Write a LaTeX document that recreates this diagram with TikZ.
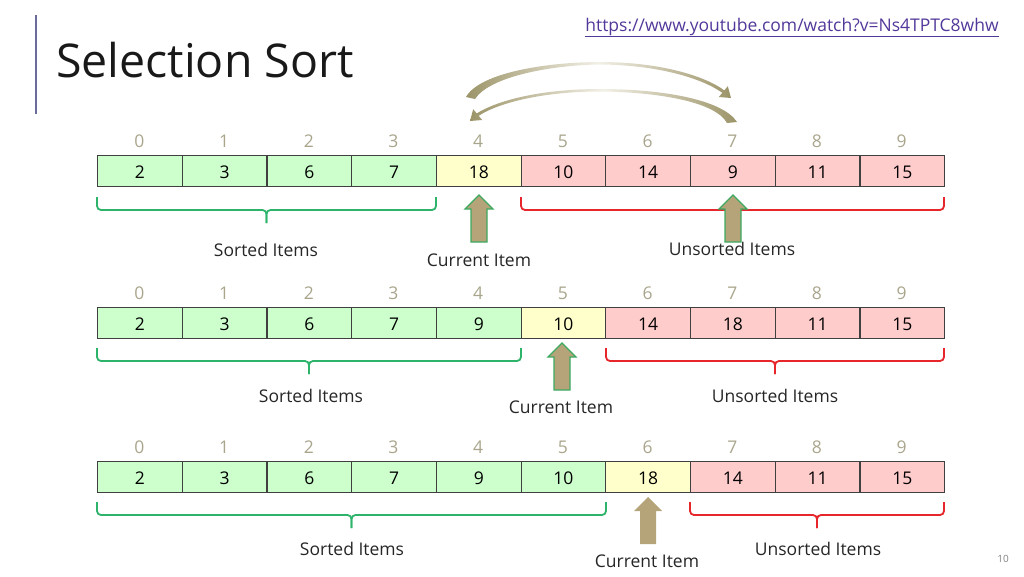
\documentclass[tikz,border=0pt]{standalone}
\usepackage{fontspec}
\setmainfont{Open Sans}
\definecolor{cg}{HTML}{CCFFCC}
\definecolor{cy}{HTML}{FFFFCC}
\definecolor{cp}{HTML}{FFCCCC}
\definecolor{cellborder}{HTML}{404040}
\definecolor{bgreen}{HTML}{2EB36B}
\definecolor{bred}{HTML}{E6262B}
\definecolor{arrowfill}{HTML}{B5A47A}
\definecolor{arrowline}{HTML}{3DAA60}
\definecolor{idxcol}{HTML}{A9A58C}
\definecolor{titleline}{HTML}{6C6C9C}
\definecolor{urlcol}{HTML}{52389A}
\definecolor{swapdark}{HTML}{9C9468}
\definecolor{swaplight}{HTML}{F2F0E6}
\pgfdeclarehorizontalshading{swapshade}{100bp}{color(0bp)=(swapdark); color(25bp)=(swapdark); color(50bp)=(swaplight); color(75bp)=(swapdark); color(100bp)=(swapdark)}
\newcommand\lblfont{\fontsize{17.5}{20}\selectfont}
\begin{document}
\begin{tikzpicture}[x=1pt,y=-1pt,
  cell/.style={draw=cellborder, line width=1.2pt, minimum width=84.7pt, minimum height=31pt,
    inner sep=0pt, text height=15pt, text depth=0pt, font=\lblfont, anchor=north west},
  idx/.style={font=\lblfont, text=idxcol, anchor=base, inner sep=0pt},
  lbl/.style={font=\lblfont, text=black!85, anchor=base, inner sep=0pt},
  bracestyle/.style={line width=1.8pt, rounded corners=4pt},
  curarrow/.pic={\path[pic actions] (0,0) -- (14,14) -- (8,14) -- (8,47) -- (-8,47) -- (-8,14) -- (-14,14) -- cycle;},
  arrowstyle/.style={fill=arrowfill, draw=arrowline, line width=1.3pt},
  swap/.style={shading=swapshade}
]
\useasboundingbox (0,0) rectangle (1024,576);

% title
\draw[titleline, line width=2pt] (36,15) -- (36,114);
\node[anchor=base west, inner sep=0pt, font=\fontsize{46.5}{50}\selectfont, text=black!90] (title) at (56,77) {Selection Sort};
\node[anchor=base, inner sep=0pt, font=\lblfont, text=urlcol] (url) at (792,31) {\underline{https://www.youtube.com/watch?v=Ns4TPTC8whw}};
\node[font=\fontsize{10}{11}\selectfont, text=gray, inner sep=0pt] (page) at (1003,559) {10};

% rows
\foreach \r/\top/\vals in {
  1/155/{2/cg,3/cg,6/cg,7/cg,18/cy,10/cp,14/cp,9/cp,11/cp,15/cp},
  2/307/{2/cg,3/cg,6/cg,7/cg,9/cg,10/cy,14/cp,18/cp,11/cp,15/cp},
  3/461/{2/cg,3/cg,6/cg,7/cg,9/cg,10/cg,18/cy,14/cp,11/cp,15/cp}}{
  \foreach \v/\c [count=\i from 0] in \vals {
    \node[cell, fill=\c] (r\r c\i) at ({97+84.7*\i}, \top) {\v};
    \node[idx] (i\r c\i) at ({97+84.7*(\i+0.5)}, \top-8) {\i};
  }
}

% swap arrows
\shade[swap] (466,97) .. controls (480,72) and (550,62) .. (600,62)
  .. controls (660,62) and (705,76) .. (724.3,90.4) -- (727.8,86.2) -- (731,98) -- (718.8,97) -- (722.3,92.8)
  .. controls (703,79) and (660,65) .. (600,64.5) .. controls (553,65) and (490,76) .. (475,99) -- cycle;
\shade[swap] (737,122) .. controls (722,99) and (660,89) .. (600,89)
  .. controls (545,89) and (500,99) .. (476.7,113.4) -- (473.2,109.2) -- (470,121) -- (482.2,120) -- (478.7,115.8)
  .. controls (500,102) and (545,91.5) .. (600,91.5) .. controls (655,92) and (715,101) .. (727,123) -- cycle;

% braces row 1
\draw[bracestyle, bgreen] (97,197) -- (97,210) -- (266.5,210) -- (266.5,223);
\draw[bracestyle, bgreen] (436,197) -- (436,210) -- (266.5,210) -- (266.5,223);
\draw[bracestyle, bred] (521,197) -- (521,210) -- (732.5,210) -- (732.5,223);
\draw[bracestyle, bred] (944,197) -- (944,210) -- (732.5,210) -- (732.5,223);
% braces row 2
\draw[bracestyle, bgreen] (97,348) -- (97,361) -- (309,361) -- (309,374);
\draw[bracestyle, bgreen] (521,348) -- (521,361) -- (309,361) -- (309,374);
\draw[bracestyle, bred] (606,348) -- (606,361) -- (775,361) -- (775,374);
\draw[bracestyle, bred] (944,348) -- (944,361) -- (775,361) -- (775,374);
% braces row 3
\draw[bracestyle, bgreen] (97,502) -- (97,515) -- (351.5,515) -- (351.5,528);
\draw[bracestyle, bgreen] (606,502) -- (606,515) -- (351.5,515) -- (351.5,528);
\draw[bracestyle, bred] (690,502) -- (690,515) -- (817,515) -- (817,528);
\draw[bracestyle, bred] (944,502) -- (944,515) -- (817,515) -- (817,528);

% current item arrows
\pic[arrowstyle] (cur1) at (479,195) {curarrow};
\pic[arrowstyle] (min1) at (733,195) {curarrow};
\pic[arrowstyle] (cur2) at (562,343) {curarrow};
\pic[fill=arrowfill] (cur3) at (648,497) {curarrow};

% labels
\node[lbl] (s1) at (266,256) {Sorted Items};
\node[lbl] (c1) at (479,266) {Current Item};
\node[lbl] (u1) at (732,255) {Unsorted Items};
\node[lbl] (s2) at (311,402) {Sorted Items};
\node[lbl] (c2) at (561,413) {Current Item};
\node[lbl] (u2) at (775,402) {Unsorted Items};
\node[lbl] (s3) at (352,555) {Sorted Items};
\node[lbl] (c3) at (647,567) {Current Item};
\node[lbl] (u3) at (818,555) {Unsorted Items};
\end{tikzpicture}
\end{document}
